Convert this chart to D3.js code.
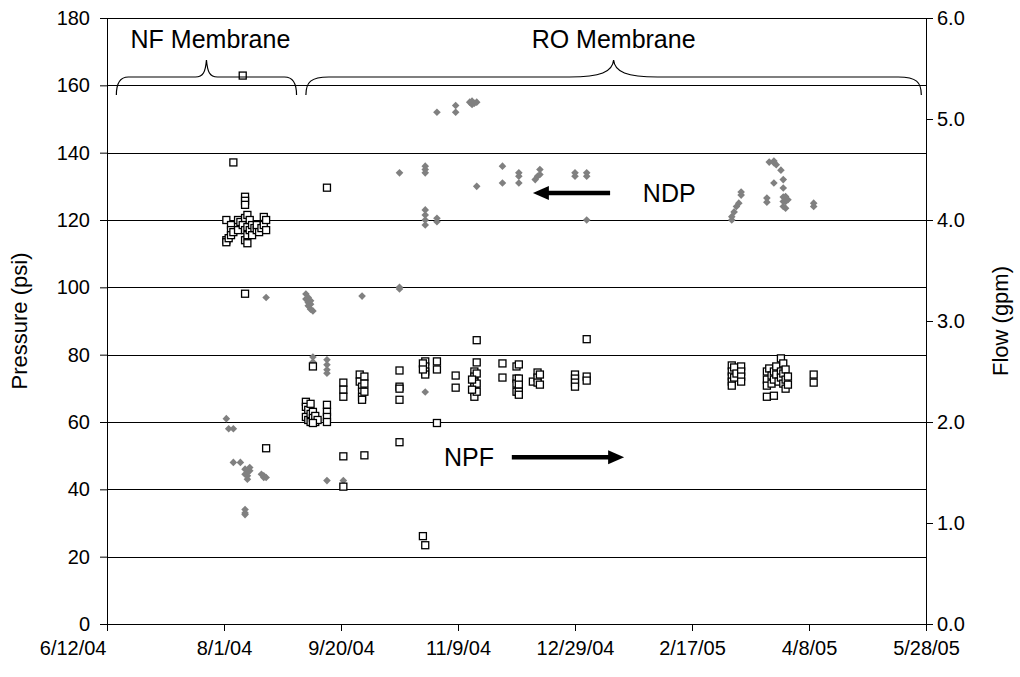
<!DOCTYPE html>
<html>
<head>
<meta charset="utf-8">
<script src="https://cdn.jsdelivr.net/npm/d3@7"></script>
<style>
  html, body { margin: 0; padding: 0; background: #fff; }
  svg text { font-family: Arial, "Liberation Sans", sans-serif; fill: #000; }
</style>
</head>
<body>
<svg id="chart" width="1020" height="677"></svg>
<script>
// Net driving pressure (psi, left axis) and normalized permeate flow (gpm, right axis)
const xTickDates = ["2004-06-12","2004-08-01","2004-09-20","2004-11-09","2004-12-29","2005-02-17","2005-04-08","2005-05-28"];
const pressureTicks = [0,20,40,60,80,100,120,140,160,180];
const flowTicks = [0,1,2,3,4,5,6];

// NDP readings: [date, psi]
const ndpDates = [
  "2004-08-02","2004-08-03","2004-08-05","2004-08-05","2004-08-08","2004-08-10","2004-08-11","2004-08-10","2004-08-11","2004-08-12",
  "2004-08-17","2004-08-18","2004-08-19","2004-08-11","2004-08-12","2004-08-18","2004-08-10","2004-08-10","2004-08-10","2004-08-19",
  "2004-09-05","2004-09-05","2004-09-06","2004-09-06","2004-09-06","2004-09-07","2004-09-07","2004-09-08","2004-09-07","2004-09-29",
  "2004-10-15","2004-10-15","2004-10-15","2004-09-08","2004-09-08","2004-09-14","2004-09-14","2004-09-14","2004-09-14",
  "2004-09-14","2004-09-21",
  "2004-10-26","2004-10-26","2004-10-26","2004-10-26","2004-10-26","2004-10-26","2004-10-26","2004-10-31","2004-10-31","2004-10-26",
  "2004-10-31","2004-11-08","2004-11-08","2004-11-14","2004-11-15","2004-11-16","2004-11-17","2004-11-15","2004-11-17",
  "2004-11-28","2004-11-28","2004-12-05","2004-12-05","2004-12-05","2004-12-12","2004-12-13","2004-12-14","2004-12-14",
  "2004-12-29","2004-12-29","2005-01-03","2005-01-03","2005-01-03",
  "2005-03-06","2005-03-06","2005-03-07","2005-03-08","2005-03-09","2005-03-10","2005-03-10","2005-03-21","2005-03-21",
  "2005-03-22","2005-03-24","2005-03-25","2005-03-24","2005-03-27","2005-03-24","2005-03-28","2005-03-28","2005-03-28",
  "2005-03-28","2005-03-28","2005-03-29","2005-03-29","2005-03-29","2005-03-30","2005-04-10","2005-04-10"
];
const ndpPsi = [
  61,58,58,48,48,46,45,44.5,44,45.5,
  44.5,44,43.5,43,46.5,43.5,34,33,32.5,97,
  98,96.5,97,95.5,94.5,93.5,95,93,96,97.4,
  100,99.5,134,79.3,77.8,78.5,77,75.5,74.5,
  42.6,42.6,
  136,135,134,123,121.5,120,118.5,120.5,119.5,68.9,
  152,154,152,155,155.3,154.7,155,154.3,130,
  136,131,134,133,131,132,133,135,133.5,
  134,133,134,133,120,
  120,121,122.4,124,125,127.4,128.3,126.5,125.3,
  137.2,137,136.4,137.5,134.8,131,132,129.5,126.8,
  125.5,124,127,125.5,123.5,126,125,124
];

// NPF readings: [date, gpm]
const npfDates = [
  "2004-08-09","2004-08-05","2004-08-10","2004-08-10","2004-08-10",
  "2004-08-02","2004-08-02","2004-08-02","2004-08-03","2004-08-04","2004-08-04","2004-08-04","2004-08-05","2004-08-07","2004-08-07",
  "2004-08-08","2004-08-09","2004-08-10","2004-08-10","2004-08-10","2004-08-11","2004-08-11","2004-08-11","2004-08-11","2004-08-12",
  "2004-08-12","2004-08-13","2004-08-13","2004-08-14","2004-08-15","2004-08-15","2004-08-16","2004-08-17","2004-08-18","2004-08-18",
  "2004-08-19","2004-08-19","2004-08-10","2004-08-19",
  "2004-09-14","2004-09-08",
  "2004-09-05","2004-09-05","2004-09-05","2004-09-06","2004-09-06","2004-09-07","2004-09-07","2004-09-07","2004-09-08","2004-09-08",
  "2004-09-09","2004-09-09","2004-09-10","2004-09-08",
  "2004-09-14","2004-09-14","2004-09-14","2004-09-14",
  "2004-09-21","2004-09-21","2004-09-21",
  "2004-09-28","2004-09-28","2004-09-29","2004-09-29","2004-09-29","2004-09-30","2004-09-30","2004-09-30","2004-09-29",
  "2004-10-15","2004-10-15","2004-10-15","2004-10-15","2004-10-15",
  "2004-09-21","2004-09-30","2004-09-21",
  "2004-10-26","2004-10-26","2004-10-26","2004-10-26","2004-10-25","2004-10-25",
  "2004-10-31","2004-10-31","2004-11-08","2004-11-08","2004-10-31",
  "2004-11-17","2004-11-17","2004-11-16","2004-11-16","2004-11-16","2004-11-16","2004-11-16","2004-11-16","2004-11-17","2004-11-17",
  "2004-11-17","2004-11-15","2004-11-15",
  "2004-11-28","2004-11-28",
  "2004-12-04","2004-12-04","2004-12-04","2004-12-04",
  "2004-12-05","2004-12-05","2004-12-05","2004-12-05","2004-12-05",
  "2004-12-11","2004-12-13","2004-12-13","2004-12-13","2004-12-14","2004-12-14",
  "2004-12-29","2004-12-29","2004-12-29","2004-12-29","2005-01-03","2005-01-03","2005-01-03",
  "2004-10-25","2004-10-26",
  "2005-03-06","2005-03-06","2005-03-06","2005-03-06","2005-03-06","2005-03-07","2005-03-07","2005-03-08","2005-03-10","2005-03-10",
  "2005-03-10","2005-03-10",
  "2005-03-21","2005-03-21","2005-03-21","2005-03-22","2005-03-23","2005-03-23","2005-03-24","2005-03-24","2005-03-25","2005-03-25",
  "2005-03-26","2005-03-27","2005-03-27","2005-03-27","2005-03-28","2005-03-28","2005-03-28","2005-03-29","2005-03-29","2005-03-29",
  "2005-03-30","2005-03-30","2005-03-21","2005-03-24",
  "2005-04-10","2005-04-10"
];
const npfGpm = [
  5.43,4.57,4.23,4.19,4.15,
  4.0,3.8,3.78,3.82,3.95,3.9,3.85,3.88,4.0,3.9,
  3.98,3.95,4.02,3.9,3.8,4.05,3.93,3.85,3.77,4.0,
  3.9,3.95,3.85,3.92,3.9,3.95,3.88,3.92,4.03,3.95,
  4.0,3.9,3.27,1.74,
  4.32,2.55,
  2.2,2.15,2.05,2.12,2.02,2.18,2.08,2.0,2.1,2.04,
  2.0,2.06,2.02,1.99,
  2.17,2.1,2.05,2.0,
  2.39,2.32,2.25,
  2.47,2.4,2.35,2.3,2.25,2.45,2.38,2.3,2.22,
  2.51,2.35,2.33,2.22,1.8,
  1.66,1.67,1.36,
  2.6,2.55,2.5,2.47,2.58,2.52,
  2.6,2.52,2.46,2.34,1.99,
  2.81,2.59,2.5,2.45,2.4,2.35,2.3,2.25,2.48,2.38,
  2.3,2.42,2.32,
  2.58,2.44,
  2.55,2.43,2.38,2.3,
  2.57,2.43,2.37,2.3,2.27,
  2.4,2.49,2.44,2.39,2.47,2.37,
  2.47,2.43,2.39,2.35,2.45,2.41,2.82,
  0.87,0.78,
  2.56,2.5,2.45,2.4,2.36,2.54,2.44,2.48,2.55,2.5,
  2.45,2.4,
  2.5,2.42,2.36,2.53,2.46,2.38,2.5,2.42,2.55,2.47,
  2.4,2.63,2.5,2.44,2.58,2.48,2.38,2.52,2.42,2.33,
  2.45,2.37,2.25,2.26,
  2.47,2.39
];

// Membrane periods shown as braces above the data
const phaseNames = ["NF Membrane", "RO Membrane"];
const phaseStart = ["2004-06-16", "2004-09-05"];
const phaseEnd = ["2004-09-01", "2005-05-26"];

const parse = d3.utcParse("%Y-%m-%d");
const fmt = d3.utcFormat("%-m/%-d/%y");

const width = 1020, height = 677;
const margin = { top: 18, right: 94, bottom: 53, left: 107 };
const iw = width - margin.left - margin.right;
const ih = height - margin.top - margin.bottom;
const tickFont = 20, titleFont = 22, noteFont = 25;

const svg = d3.select("#chart");
const g = svg.append("g").attr("transform", `translate(${margin.left},${margin.top})`);

const xTicks = xTickDates.map(parse);
const x = d3.scaleUtc().domain([xTicks[0], xTicks[xTicks.length - 1]]).range([0, iw]);
const yL = d3.scaleLinear().domain([0, 180]).range([ih, 0]);
const yR = d3.scaleLinear().domain([0, 6]).range([ih, 0]);

// horizontal gridlines
g.append("g").selectAll("line")
  .data(pressureTicks.filter(v => v > 0))
  .join("line")
  .attr("x1", 0).attr("x2", iw)
  .attr("y1", d => Math.round(yL(d)) + 0.5).attr("y2", d => Math.round(yL(d)) + 0.5)
  .attr("stroke", "#000").attr("stroke-width", 1);

// plot frame
g.append("rect").attr("x", 0.5).attr("y", 0.5).attr("width", iw).attr("height", ih)
  .attr("fill", "none").attr("stroke", "#000").attr("stroke-width", 1);

// axes
const axisStyle = sel => {
  sel.select(".domain").remove();
  sel.selectAll(".tick line").attr("stroke", "#000");
  sel.selectAll(".tick text").attr("font-size", tickFont).attr("font-family", "Arial, 'Liberation Sans', sans-serif");
};

const xAxisG = g.append("g").attr("transform", `translate(0,${ih})`)
  .call(d3.axisBottom(x).tickValues(xTicks).tickFormat(fmt).tickSize(7).tickPadding(10))
  .call(axisStyle);
// first date label sits to the left of its tick so it clears the value labels
xAxisG.select(".tick text").attr("text-anchor", "end").attr("x", -1);

g.append("g")
  .call(d3.axisLeft(yL).tickValues(pressureTicks).tickFormat(d3.format("d")).tickSize(7).tickPadding(10))
  .call(axisStyle);

g.append("g").attr("transform", `translate(${iw},0)`)
  .call(d3.axisRight(yR).tickValues(flowTicks).tickFormat(d3.format(".1f")).tickSize(7).tickPadding(4))
  .call(axisStyle);

// axis titles
svg.append("text").attr("transform", `translate(27,${margin.top + ih / 2}) rotate(-90)`)
  .attr("text-anchor", "middle").attr("font-size", titleFont).text("Pressure (psi)");
svg.append("text").attr("transform", `translate(1008,${margin.top + ih / 2}) rotate(-90)`)
  .attr("text-anchor", "middle").attr("font-size", titleFont).text("Flow (gpm)");

// NDP: grey diamonds on the pressure axis
const ndp = ndpDates.map((d, i) => ({ date: parse(d), v: ndpPsi[i] }));
const diamond = "M0,-3.8L3.8,0L0,3.8L-3.8,0Z";
g.append("g").selectAll("path")
  .data(ndp).join("path")
  .attr("d", diamond)
  .attr("transform", d => `translate(${x(d.date)},${yL(d.v)})`)
  .attr("fill", "#808080");

// NPF: open black squares on the flow axis
const npf = npfDates.map((d, i) => ({ date: parse(d), v: npfGpm[i] }));
g.append("g").selectAll("rect")
  .data(npf).join("rect")
  .attr("x", d => x(d.date) - 3.5).attr("y", d => yR(d.v) - 3.5)
  .attr("width", 7).attr("height", 7)
  .attr("fill", "#fff").attr("stroke", "#000").attr("stroke-width", 1.3);

// membrane braces and labels
phaseNames.forEach((name, i) => {
  const a = x(parse(phaseStart[i])), b = x(parse(phaseEnd[i]));
  const m = (a + b) / 2;
  const span = b - a;
  const r = span > 300 ? 23 : 12;     // corner radius
  const h = span > 300 ? 44 : 11;     // half-width of the centre point
  const yFlat = 59, yEnd = 77, yPeak = 42;
  const p = `M${a},${yEnd} C${a},${yFlat + 5} ${a + 5},${yFlat} ${a + r},${yFlat}` +
            ` L${m - h},${yFlat} C${m - h * 0.3},${yFlat} ${m - 1},${yFlat - 5} ${m},${yPeak}` +
            ` C${m + 1},${yFlat - 5} ${m + h * 0.3},${yFlat} ${m + h},${yFlat}` +
            ` L${b - r},${yFlat} C${b - 5},${yFlat} ${b},${yFlat + 5} ${b},${yEnd}`;
  g.append("path").attr("d", p).attr("fill", "none").attr("stroke", "#000").attr("stroke-width", 1.2);
  g.append("text").attr("x", m + (span > 300 ? 0 : 4)).attr("y", 30).attr("text-anchor", "middle")
    .attr("font-size", noteFont).text(name);
});

// series call-outs with arrows
function arrow(x0, x1, y, dir) {
  const tip = dir < 0 ? x0 : x1, tail = dir < 0 ? x1 : x0;
  const hl = 16 * dir;
  g.append("line").attr("x1", tail).attr("x2", tip - hl * 0.6).attr("y1", y).attr("y2", y)
    .attr("stroke", "#000").attr("stroke-width", 4.5);
  g.append("path").attr("d", `M${tip},${y} L${tip - hl},${y - 7} L${tip - hl},${y + 7} Z`).attr("fill", "#000");
}
const ndpArrowY = yL(128);
arrow(x(parse("2004-12-11")), x(parse("2005-01-13")), ndpArrowY, -1);
g.append("text").attr("x", x(parse("2005-01-27"))).attr("y", ndpArrowY + 9).attr("font-size", noteFont).text("NDP");

const npfArrowY = yR(1.65);
arrow(x(parse("2004-12-02")), x(parse("2005-01-19")), npfArrowY, 1);
g.append("text").attr("x", x(parse("2004-11-03"))).attr("y", npfArrowY + 9).attr("font-size", noteFont).text("NPF");
</script>
</body>
</html>
